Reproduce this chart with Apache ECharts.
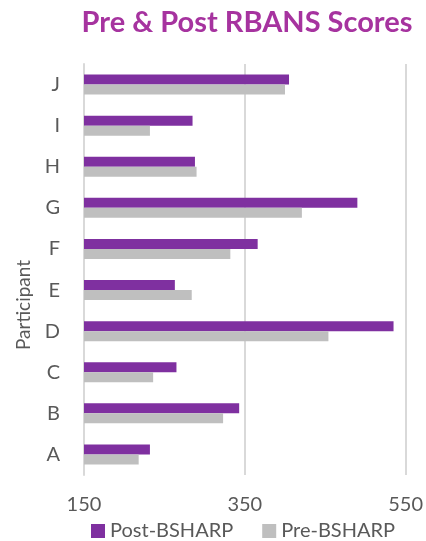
<!DOCTYPE html>
<html><head><meta charset="utf-8">
<script src="https://cdn.jsdelivr.net/npm/echarts@6/dist/echarts.min.js"></script>
<style>html,body{margin:0;padding:0;background:#fff}#c{width:426px;height:541px}</style>
</head><body><div id="c"></div>
<script>
const categories = ['A','B','C','D','E','F','G','H','I','J'];
const postBSHARP = [232, 343, 265, 535, 263, 366, 490, 288, 285, 405];
const preBSHARP  = [218, 323, 236, 454, 284, 332, 421, 290, 232, 400];
const xTicks = [150, 350, 550];
const yAxisTitle = 'Participant';

const chart = echarts.init(document.getElementById('c'), null, {renderer:'canvas'});
chart.setOption({
  animation:false,
  title:{text:'Pre & Post RBANS Scores', left:242, top:3, textAlign:'center',
    textStyle:{fontFamily:'Lato', fontWeight:'bold', fontSize:29, color:'#A6339F'}},
  grid:{left:84, right:20, top:64, bottom:66, containLabel:false},
  legend:{bottom:-5, left:86, itemWidth:14, itemHeight:14, itemGap:29,
    icon:'rect', textStyle:{fontFamily:'Lato', fontSize:20, color:'#595959'},
    data:['Post-BSHARP','Pre-BSHARP']},
  graphic:[{type:'text', x:24, y:305, rotation:Math.PI/2,
    style:{text:yAxisTitle, font:'19px Lato', fill:'#595959', align:'center', verticalAlign:'middle'}}],
  xAxis:{type:'value', min:xTicks[0], max:xTicks[xTicks.length-1], interval:200,
    axisLine:{show:false}, axisTick:{show:false},
    axisLabel:{fontFamily:'Lato', fontSize:20, color:'#595959', margin:20},
    splitLine:{lineStyle:{color:'#D9D9D9', width:2}}},
  yAxis:{type:'category', data:categories,
    axisLine:{lineStyle:{color:'#D9D9D9', width:2}}, axisTick:{show:false},
    axisLabel:{fontFamily:'Lato', fontSize:20, color:'#595959', margin:24}},
  series:[
    {name:'Post-BSHARP', type:'bar', data:postBSHARP, barWidth:10, barGap:'0%',
      itemStyle:{color:'#7F30A0'}},
    {name:'Pre-BSHARP', type:'bar', data:preBSHARP, barWidth:10, barGap:'0%',
      itemStyle:{color:'#BFBFBF'}}
  ]
});
</script></body></html>
